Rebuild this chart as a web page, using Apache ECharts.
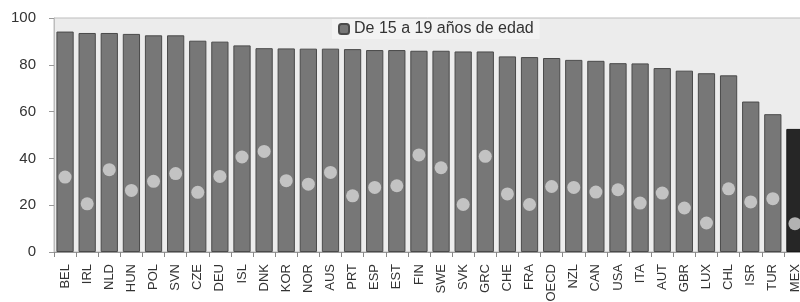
<!DOCTYPE html>
<html>
<head>
<meta charset="utf-8">
<script src="https://cdn.jsdelivr.net/npm/echarts@6/dist/echarts.min.js"></script>
<style>
html, body { margin: 0; padding: 0; background: #fff; }
#chart { width: 800px; height: 302px; }
</style>
</head>
<body>
<div id="chart"></div>
<script>
const countries = ['BEL', 'IRL', 'NLD', 'HUN', 'POL', 'SVN', 'CZE', 'DEU', 'ISL', 'DNK', 'KOR', 'NOR', 'AUS', 'PRT', 'ESP', 'EST', 'FIN', 'SWE', 'SVK', 'GRC', 'CHE', 'FRA', 'OECD', 'NZL', 'CAN', 'USA', 'ITA', 'AUT', 'GBR', 'LUX', 'CHL', 'ISR', 'TUR', 'MEX'];
const age15to19 = [94.2, 93.6, 93.6, 93.2, 92.6, 92.6, 90.3, 89.9, 88.3, 87.1, 87.0, 86.9, 86.9, 86.7, 86.3, 86.3, 86.0, 86.0, 85.7, 85.7, 83.6, 83.3, 82.9, 82.1, 81.7, 80.7, 80.6, 78.6, 77.5, 76.4, 75.5, 64.3, 58.9, 52.6];
const age20to29 = [32.0, 20.6, 35.2, 26.3, 30.2, 33.5, 25.5, 32.3, 40.6, 43.0, 30.5, 29.0, 34.0, 24.0, 27.6, 28.3, 41.5, 36.0, 20.3, 40.9, 24.8, 20.3, 28.0, 27.6, 25.6, 26.6, 20.9, 25.2, 18.8, 12.4, 27.0, 21.4, 22.8, 12.1];
const yTicks = [0, 20, 40, 60, 80, 100];
const highlight = 'MEX';

const chart = echarts.init(document.getElementById('chart'));

const barData = age15to19.map((v, i) => ({
    value: v,
    itemStyle: countries[i] === highlight ? { color: '#262626', borderColor: '#1a1a1a' } : undefined
}));

const option = {
    animation: false,
    textStyle: { fontFamily: 'Liberation Sans, Arial, sans-serif' },
    grid: {
        left: 54,
        width: 752,
        top: 18,
        bottom: 50,
        outerBoundsMode: 'none',
        containLabel: false,
        show: true,
        backgroundColor: '#ececec',
        borderColor: '#bdbdbd',
        borderWidth: 1
    },
    legend: {
        data: ['De 15 a 19 años de edad'],
        left: 332,
        top: 19,
        itemWidth: 10,
        itemHeight: 10,
        itemGap: 4,
        padding: [2, 6],
        backgroundColor: '#f3f3f3',
        textStyle: { color: '#333', fontSize: 16, fontFamily: 'Liberation Sans, Arial, sans-serif' }
    },
    xAxis: {
        type: 'category',
        data: countries,
        axisLine: { show: true, lineStyle: { color: '#999' } },
        axisTick: { show: true, alignWithLabel: false, length: 5, lineStyle: { color: '#888' } },
        axisLabel: {
            rotate: 90,
            interval: 0,
            color: '#333',
            fontSize: 13,
            margin: 12
        },
        splitLine: { show: false }
    },
    yAxis: {
        type: 'value',
        min: yTicks[0],
        max: yTicks[yTicks.length - 1],
        interval: 20,
        axisLine: { show: true, lineStyle: { color: '#bdbdbd' } },
        axisTick: { show: true, length: 5, lineStyle: { color: '#999' } },
        axisLabel: { color: '#333', fontSize: 15, margin: 18 },
        splitLine: { show: false }
    },
    series: [
        {
            name: 'De 15 a 19 años de edad',
            type: 'bar',
            barCategoryGap: '22%',
            itemStyle: { color: '#777', borderColor: '#4a4a4a', borderWidth: 1 },
            data: barData
        },
        {
            name: 'De 20 a 29 años de edad',
            type: 'scatter',
            symbol: 'circle',
            symbolSize: 13,
            itemStyle: { color: '#d6d6d6' },
            z: 3,
            data: age20to29
        }
    ]
};

chart.setOption(option);
</script>
</body>
</html>
